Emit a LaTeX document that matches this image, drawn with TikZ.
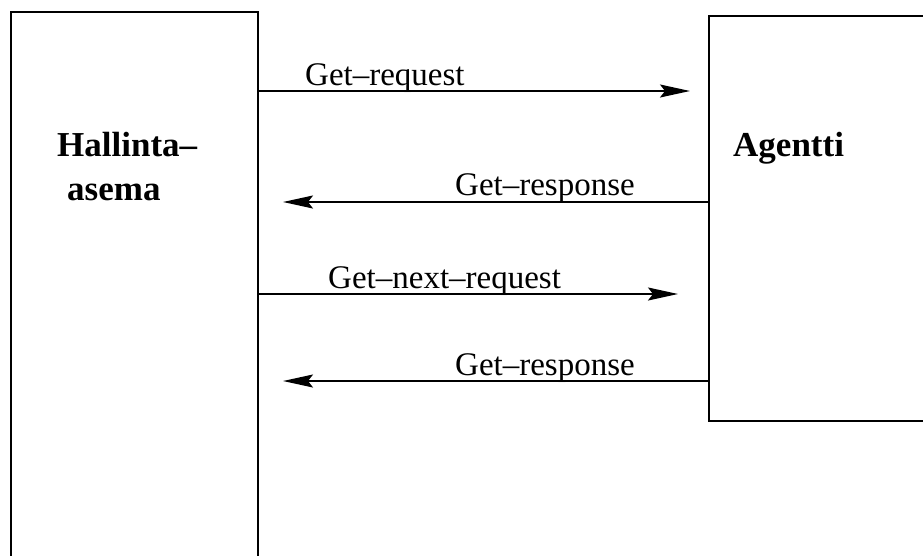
\documentclass[tikz,border=0pt]{standalone}
\usepackage{fontspec}
\setmainfont{Liberation Serif}
\usetikzlibrary{arrows.meta}
\tikzset{
  box/.style={draw,line width=1.6pt,anchor=north west,inner sep=0pt},
  msg/.style={line width=1.6pt,-{Stealth[length=30pt,width=13pt,inset=5pt]}},
  lbl/.style={anchor=base west,inner sep=0pt,font=\fontsize{33}{38}\selectfont},
  title/.style={anchor=base west,inner sep=0pt,font=\fontsize{35}{40}\selectfont\bfseries}
}
\begin{document}
\begin{tikzpicture}[x=1pt,y=-1pt]
    \useasboundingbox (0,0) rectangle (923,555);

    \node[box,minimum width=247pt,minimum height=600pt] (hallinta) at (10,11) {};
    \node[box,minimum width=240pt,minimum height=405pt] (agentti) at (708,15) {};

    \node[title] (h1) at (57,156) {Hallinta–};
    \node[title] (h2) at (67,200) {asema};
    \node[title] (a1) at (733,156) {Agentti};

    \coordinate (t1) at (690,91);
    \coordinate (t2) at (283,202);
    \coordinate (t3) at (678,294);
    \coordinate (t4) at (283,381);

    \draw[msg] (hallinta.east |- t1) -- (t1);
    \draw[msg] (agentti.west |- t2) -- (t2);
    \draw[msg] (hallinta.east |- t3) -- (t3);
    \draw[msg] (agentti.west |- t4) -- (t4);

    \node[lbl] (m1) at (305,85) {Get–request};
    \node[lbl] (m2) at (455,195) {Get–response};
    \node[lbl] (m3) at (328,288) {Get–next–request};
    \node[lbl] (m4) at (455,375) {Get–response};
\end{tikzpicture}
\end{document}
